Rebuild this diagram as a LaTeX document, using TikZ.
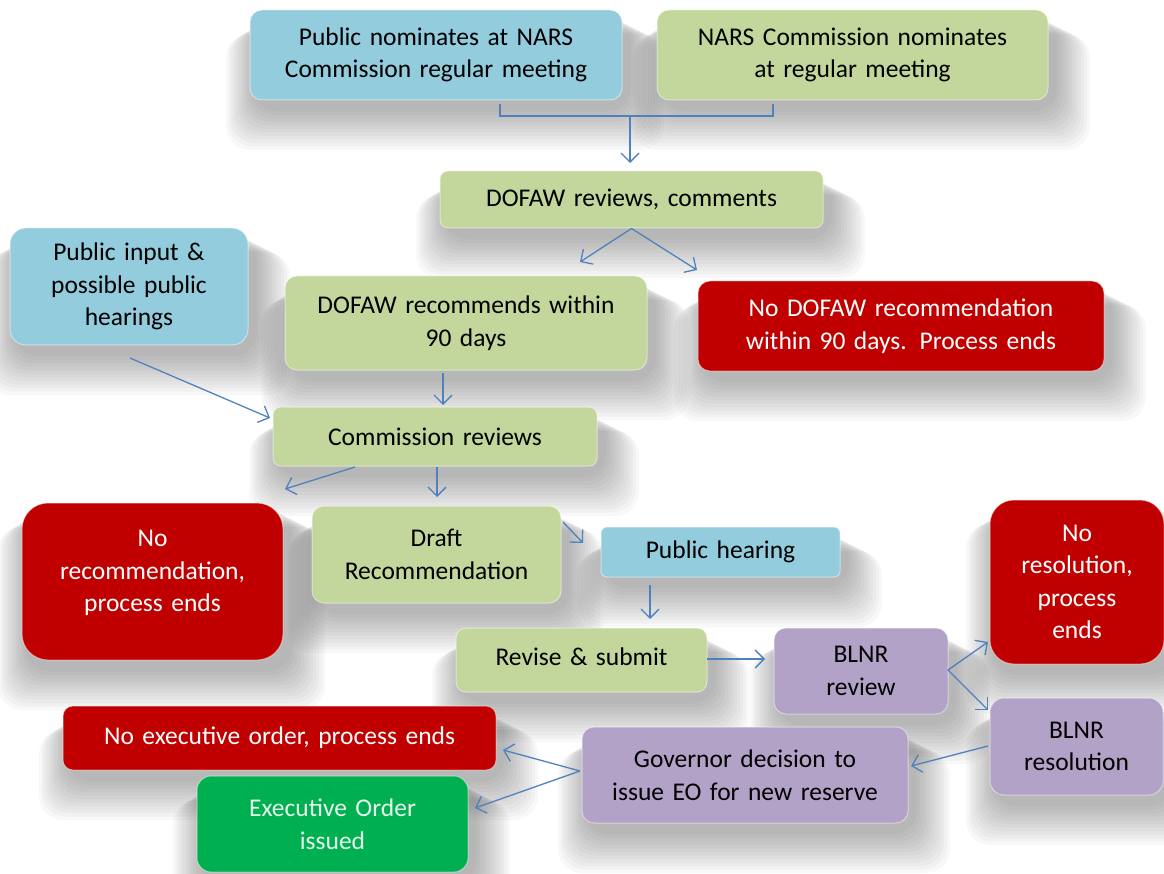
\documentclass[tikz,border=0pt]{standalone}
\usepackage{fontspec}
\setmainfont{Carlito}
\usetikzlibrary{arrows.meta,calc}
\definecolor{cblue}{HTML}{93CDDD}
\definecolor{cgreen}{HTML}{C3D69B}
\definecolor{cred}{HTML}{C00000}
\definecolor{cpurple}{HTML}{B3A2C7}
\definecolor{cdgreen}{HTML}{00B050}
\definecolor{carrow}{HTML}{4F81BD}
\pgfdeclarelayer{bg}
\pgfsetlayers{bg,main}
\tikzset{
  boxbase/.style={inner sep=0pt, align=center, draw=white, draw opacity=.45, line width=1pt,
    font=\fontsize{25.5}{32.5}\selectfont, rounded corners=12pt},
  bluebox/.style={boxbase, fill=cblue, text=black},
  greenbox/.style={boxbase, fill=cgreen, text=black},
  redbox/.style={boxbase, fill=cred, text=white},
  purplebox/.style={boxbase, fill=cpurple, text=black},
  dgreenbox/.style={boxbase, fill=cdgreen, text=white!90!cdgreen},
  conn/.style={draw=carrow, line width=1.3pt, -{Straight Barb[length=9pt,width=18pt,line width=1.3pt]}},
  plainconn/.style={draw=carrow, line width=1.3pt},
}
% name, x1, y1, x2, y2, style, text, corner radius
\newcommand\bx[8]{%
  \begin{pgfonlayer}{bg}
    \foreach \s in {1,...,12} {
      \fill[black, opacity=0.026, rounded corners=24pt]
        ({#2+6-\s*2.5},{#3+6+\s*1.5}) rectangle ({#4+6+\s*3},{#5+8+\s*3.5});
    }
  \end{pgfonlayer}
  \node[#6, rounded corners=#8, minimum width={(#4-#2)*1pt}, minimum height={(#5-#3)*1pt},
        text width={(#4-#2-16)*1pt}] (#1) at ({(#2+#4)/2},{(#3+#5)/2}) {#7};
}
\begin{document}
\begin{tikzpicture}[x=1pt,y=-1pt]
\useasboundingbox (0,0) rectangle (1164,874);

\bx{pn}{250}{10}{622}{100}{bluebox}{Public nominates at NARS\\Commission regular meeting}{12pt}
\bx{cn}{657}{10}{1048}{100}{greenbox}{NARS Commission nominates\\at regular meeting}{12pt}
\bx{drev}{440}{171}{823}{228}{greenbox}{DOFAW reviews, comments}{8pt}
\bx{pin}{10}{228}{248}{345}{bluebox}{Public input \&\\possible public\\hearings}{16pt}
\bx{drec}{285}{276}{647}{370}{greenbox}{DOFAW recommends within\\90 days}{12pt}
\bx{ndr}{698}{281}{1104}{371}{redbox}{No DOFAW recommendation\\within 90 days. Process ends}{12pt}
\bx{crev}{273}{407}{597}{466}{greenbox}{Commission reviews}{8pt}
\bx{nrec}{22}{503}{283}{660}{redbox}{No\\recommendation,\\process ends\\[-12pt]\mbox{}}{26pt}
\bx{draft}{312}{506}{561}{603}{greenbox}{Draft\\Recommendation}{12pt}
\bx{ph}{601}{527}{840}{577}{bluebox}{Public hearing}{6pt}
\bx{rev}{456}{628}{707}{692}{greenbox}{Revise \& submit\\[-26pt]\mbox{}}{10pt}
\bx{blr}{774}{628}{948}{714}{purplebox}{BLNR\\review}{12pt}
\bx{nres}{990}{500}{1164}{664}{redbox}{No\\resolution,\\process\\ends}{24pt}
\bx{bres}{990}{698}{1163}{795}{purplebox}{BLNR\\resolution}{14pt}
\bx{gov}{582}{727}{908}{823}{purplebox}{Governor decision to\\issue EO for new reserve}{12pt}
\bx{neo}{63}{706}{496}{770}{redbox}{No executive order, process ends}{10pt}
\bx{eo}{197}{776}{468}{872}{dgreenbox}{Executive Order\\issued}{14pt}

% named connector ends
\coordinate (ja) at (500,104);
\coordinate (jb) at (773,104);
\coordinate (jm) at (630,116);
\coordinate (e0) at (630,163);
\coordinate (e1) at (580,262);
\coordinate (e2) at (697,270);
\coordinate (s3) at (443,373);
\coordinate (e3) at (443,405);
\coordinate (s4) at (130,358);
\coordinate (e4) at (270,418);
\coordinate (s5) at (355,467);
\coordinate (e5) at (285,489);
\coordinate (s6) at (437,467);
\coordinate (e6) at (437,497);
\coordinate (s7) at (563,522);
\coordinate (e7) at (583,543);
\coordinate (s8) at (650,585);
\coordinate (e8) at (650,619);
\coordinate (s9) at (707,659);
\coordinate (e9) at (765,659);
\coordinate (s10) at (948,670);
\coordinate (e10) at (988,642);
\coordinate (e11) at (988,710);
\coordinate (s12) at (988,746);
\coordinate (e12) at (911,766);
\coordinate (s13) at (580,771);
\coordinate (e13) at (503,750);
\coordinate (e14) at (475,808);

\draw[plainconn] (ja) |- (jm) -| (jb);
\draw[conn] (jm) -- (e0);
\draw[conn] (drev.south) -- (e1);
\draw[conn] (drev.south) -- (e2);
\draw[conn] (s3) -- (e3);
\draw[conn] (s4) -- (e4);
\draw[conn] (s5) -- (e5);
\draw[conn] (s6) -- (e6);
\draw[conn] (s7) -- (e7);
\draw[conn] (s8) -- (e8);
\draw[conn] (s9) -- (e9);
\draw[conn] (s10) -- (e10);
\draw[conn] (s10) -- (e11);
\draw[conn] (s12) -- (e12);
\draw[conn] (s13) -- (e13);
\draw[conn] (s13) -- (e14);
\end{tikzpicture}
\end{document}
